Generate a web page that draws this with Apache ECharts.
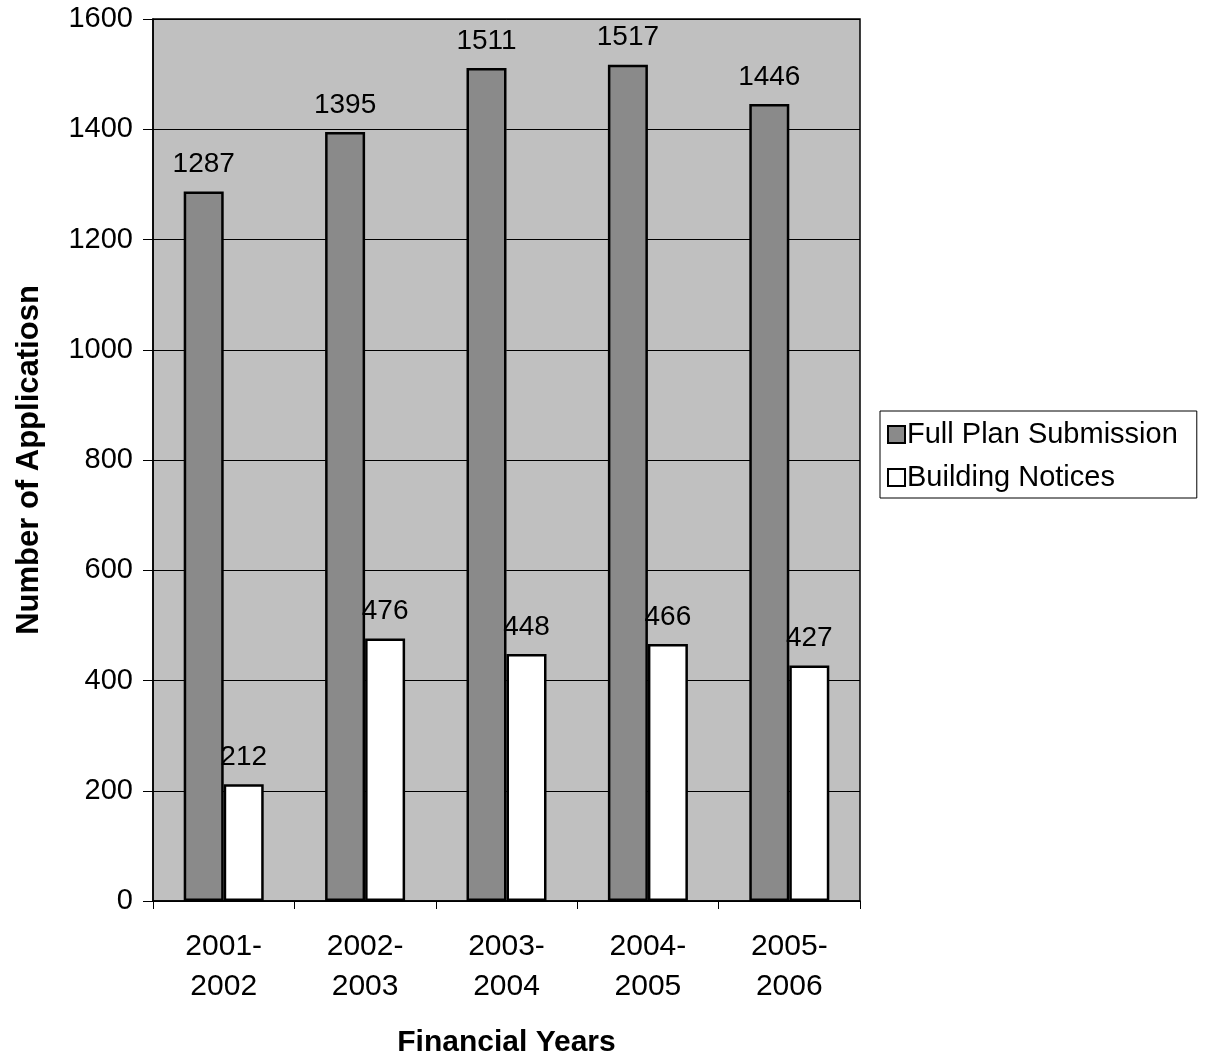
<!DOCTYPE html>
<html style="height: 100%">
<head>
    <meta charset="utf-8">
    <title>Number of Applications</title>
</head>
<body style="height: 100%; margin: 0; background: #fff">
    <div id="container" style="width: 1206px; height: 1057px"></div>
    <script type="text/javascript" src="https://cdn.jsdelivr.net/npm/echarts@6/dist/echarts.min.js"></script>
    <script type="text/javascript">
        var years = ['2001-\n2002', '2002-\n2003', '2003-\n2004', '2004-\n2005', '2005-\n2006'];
        var fullPlan = [1287, 1395, 1511, 1517, 1446];
        var buildingNotices = [212, 476, 448, 466, 427];
        var yTicks = { min: 0, max: 1600, interval: 200 };

        var font = 'Liberation Sans, Arial, sans-serif';
        var dom = document.getElementById('container');
        var myChart = echarts.init(dom);

        var labelStyle = {
            show: true,
            position: 'top',
            distance: 13,
            color: '#000',
            fontSize: 28,
            fontFamily: font
        };

        var option = {
            backgroundColor: '#fff',
            animation: false,
            textStyle: { fontFamily: font, color: '#000' },
            grid: {
                left: 153,
                top: 19,
                right: 346,
                bottom: 156,
                outerBoundsMode: 'none',
                show: true,
                backgroundColor: '#c0c0c0',
                borderColor: '#000',
                borderWidth: 1.5
            },
            legend: {
                orient: 'vertical',
                left: 880,
                top: 411,
                padding: [9, 19, 6, 7],
                itemGap: 14,
                itemWidth: 17,
                itemHeight: 17,
                borderColor: '#000',
                borderWidth: 1,
                backgroundColor: '#fff',
                icon: 'rect',
                textStyle: { fontSize: 29, color: '#000', fontFamily: font, padding: [0, 0, 0, -3] },
                data: ['Full Plan Submission', 'Building Notices']
            },
            xAxis: {
                type: 'category',
                data: years,
                name: 'Financial Years',
                nameLocation: 'middle',
                nameGap: 127,
                nameTextStyle: { fontSize: 30, fontWeight: 'bold', color: '#000', fontFamily: font },
                axisLine: { lineStyle: { color: '#000', width: 1.5 } },
                axisTick: { show: true, length: 8, lineStyle: { color: '#000' } },
                axisLabel: { fontSize: 30, color: '#000', margin: 26, lineHeight: 40, fontFamily: font }
            },
            yAxis: {
                type: 'value',
                min: yTicks.min,
                max: yTicks.max,
                interval: yTicks.interval,
                name: 'Number of Applicatiosn',
                nameLocation: 'middle',
                nameGap: 108,
                nameTextStyle: { fontSize: 31, fontWeight: 'bold', color: '#000', fontFamily: font },
                axisLine: { show: true, lineStyle: { color: '#000', width: 1.5 } },
                axisTick: { show: true, length: 10, lineStyle: { color: '#000' } },
                axisLabel: {
                    fontSize: 29, color: '#000', margin: 20, fontFamily: font,
                    formatter: function (v) { return String(v); }
                },
                splitLine: { show: true, lineStyle: { color: '#000', width: 1 } }
            },
            series: [{
                name: 'Full Plan Submission',
                type: 'bar',
                barWidth: 40,
                barGap: '0%',
                itemStyle: { color: '#8a8a8a', borderColor: '#000', borderWidth: 2.5 },
                label: labelStyle,
                data: fullPlan
            }, {
                name: 'Building Notices',
                type: 'bar',
                barWidth: 40,
                barGap: '0%',
                itemStyle: { color: '#ffffff', borderColor: '#000', borderWidth: 2.5 },
                label: labelStyle,
                data: buildingNotices
            }]
        };

        myChart.setOption(option, true);
    </script>
</body>
</html>
